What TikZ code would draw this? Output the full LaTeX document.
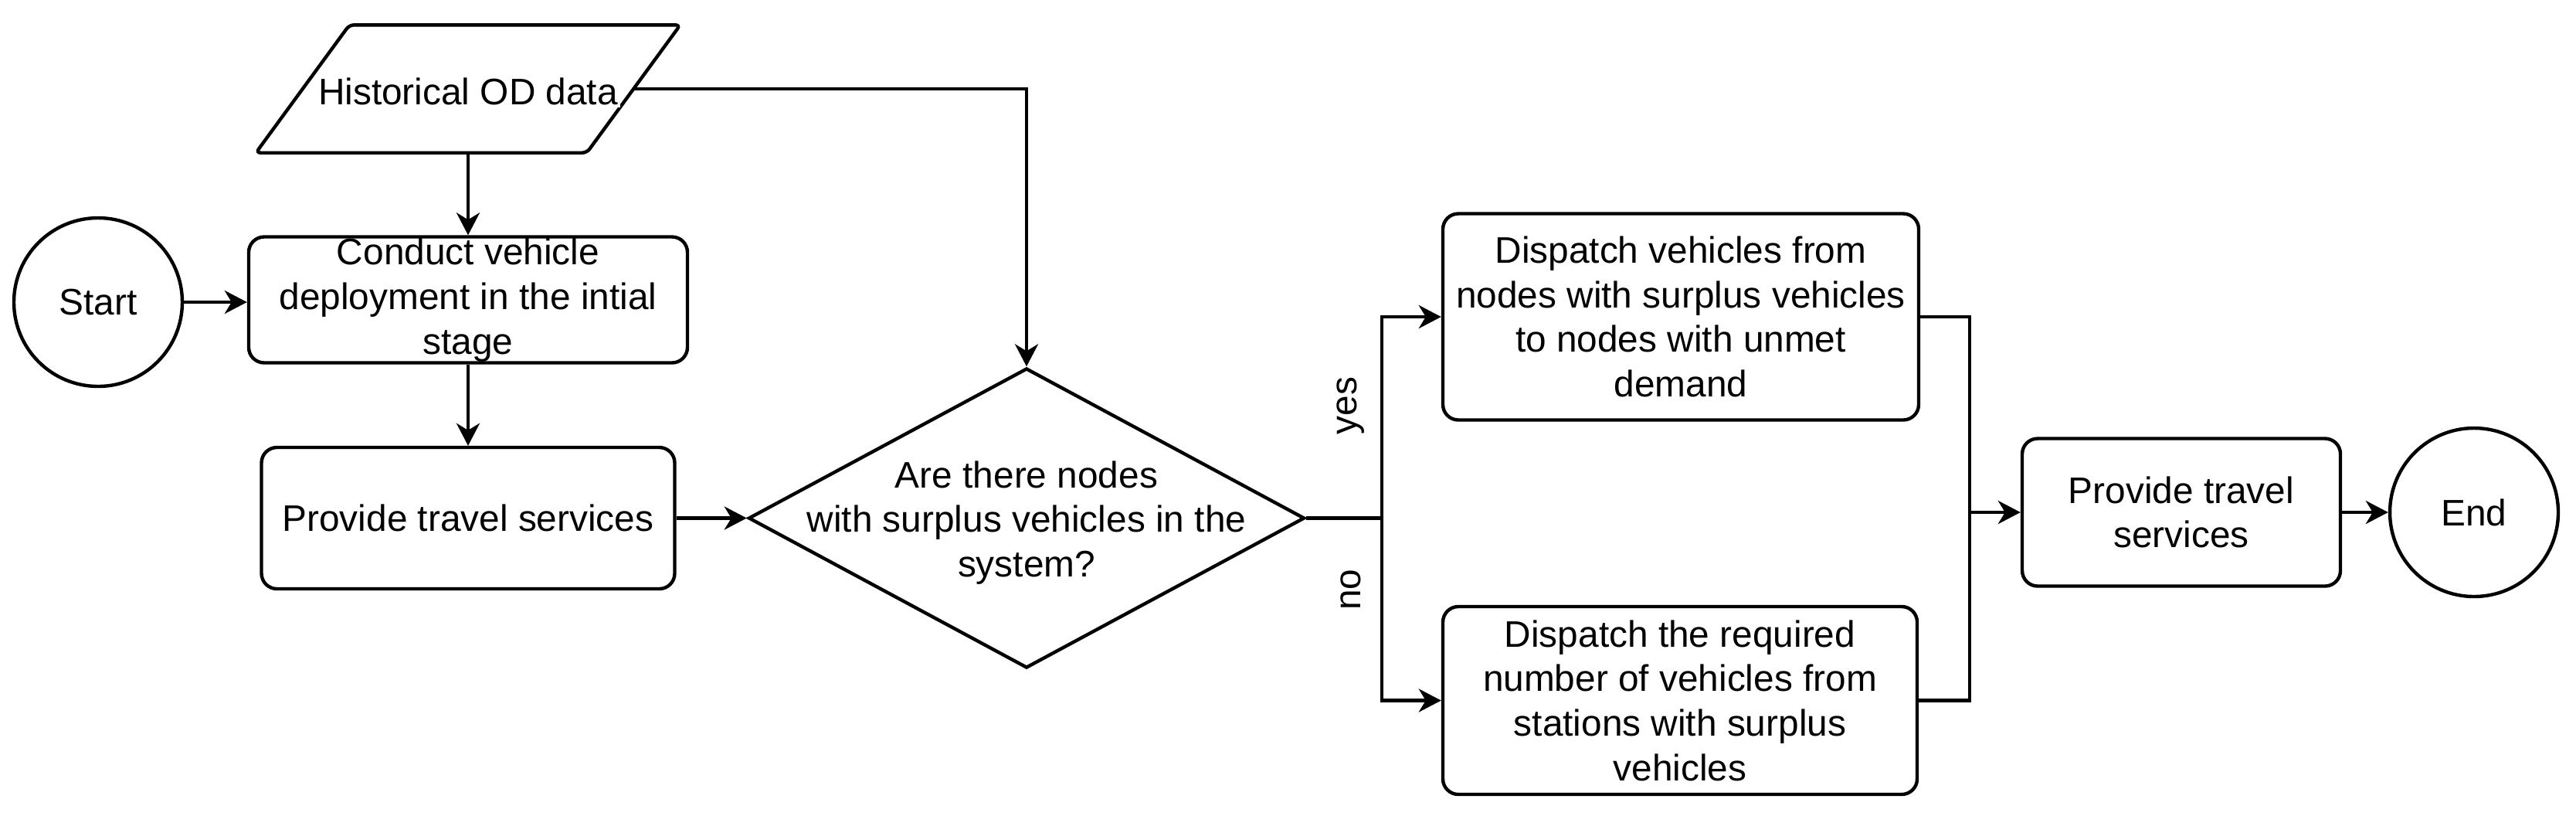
\documentclass[tikz,border=0pt]{standalone}
\usepackage{fontspec}
\setmainfont{Liberation Sans}
\usetikzlibrary{shapes.geometric,arrows.meta,positioning,calc,backgrounds}

\begin{document}
\begin{tikzpicture}[
    every node/.style={font=\fontsize{13.6}{16.4}\selectfont, align=center, inner sep=0pt},
    box/.style={draw, line width=1.25pt, rounded corners=0.2cm},
    terminal/.style={draw, circle, line width=1.25pt, minimum size=2.18cm},
    decision/.style={draw, diamond, line width=1.25pt, minimum width=7.2cm, minimum height=3.88cm},
    iodata/.style={minimum width=4.27cm, minimum height=1.64cm},
    flow/.style={line width=1.25pt, -{Stealth[length=0.29cm, width=0.3cm, inset=0.09cm]}},
    link/.style={line width=1.25pt}
]
\useasboundingbox (0,0) rectangle (33.35,-10.55);

\node[terminal] (start) at (1.27,-3.91) {Start};
\node[iodata, label={[fill=white, inner sep=1pt, yshift=-0.03cm]center:Historical OD data}] (odata) at (6.06,-1.15) {};
\node[box, minimum width=5.68cm, minimum height=1.63cm] (deploy) at (6.06,-3.88)
    {Conduct vehicle\\deployment in the intial\\stage};
\node[box, minimum width=5.35cm, minimum height=1.83cm] (serve) at (6.06,-6.705)
    {Provide travel services};
\node[decision, label={[yshift=-0.06cm]center:Are there nodes\\with surplus vehicles in the\\system?}] (check) at (13.29,-6.705) {};
\node[box, minimum width=6.16cm, minimum height=2.67cm] (disp1) at (21.76,-4.10)
    {Dispatch vehicles from\\nodes with surplus vehicles\\to nodes with unmet\\demand};
\node[box, minimum width=6.14cm, minimum height=2.43cm] (disp2) at (21.75,-9.065)
    {Dispatch the required\\number of vehicles from\\stations with surplus\\vehicles};
\node[box, minimum width=4.12cm, minimum height=1.91cm] (serve2) at (28.24,-6.63)
    {Provide travel\\services};
\node[terminal] (finish) at (32.03,-6.63) {End};
\node[rotate=90] (yes) at (17.49,-5.25) {yes};
\node[rotate=90] (no) at (17.49,-7.63) {no};
\coordinate (join) at (25.50,-6.63);

\begin{scope}[on background layer]
    \draw[line width=1.25pt, rounded corners=0.06cm]
        ($(odata.south west)+(-0.605,0)$) -- ($(odata.north west)+(0.605,0)$)
        -- ($(odata.north east)+(0.605,0)$) -- ($(odata.south east)+(-0.605,0)$) -- cycle;
\end{scope}

\draw[flow] (start.east) -- (start.east -| deploy.west);
\draw[flow] (odata.south) -- (deploy.north);
\draw[flow] (deploy.south) -- (serve.north);
\draw[flow] (serve) -- (check);
\draw[flow] (odata.east) -| (check.north);
\draw[link] (check.east) -- ++(0.98,0) coordinate (split);
\draw[flow] (split) |- (disp1.west);
\draw[flow] (split) |- (disp2.west);
\draw[link] (disp1.east) -| (join);
\draw[link] (disp2.east) -| (join);
\draw[flow] (join) -- (serve2.west);
\draw[flow] (serve2) -- (finish);
\end{tikzpicture}
\end{document}
